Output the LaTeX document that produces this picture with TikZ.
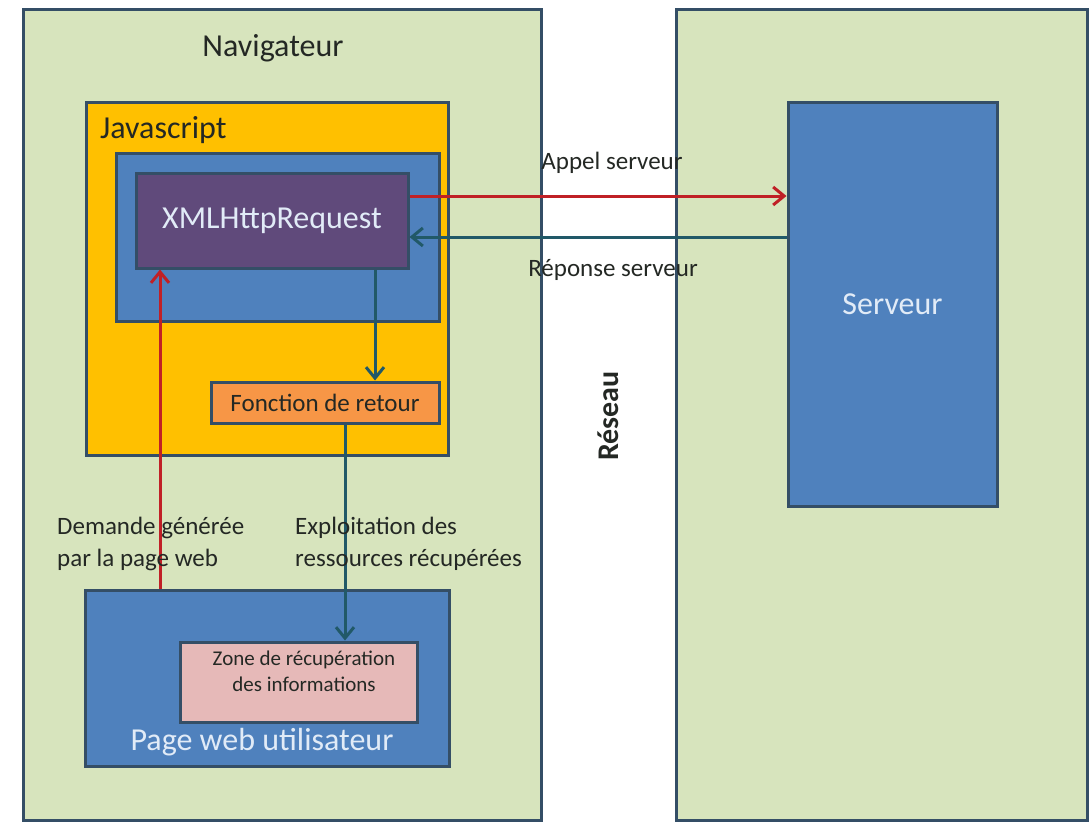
\documentclass[tikz,border=0pt]{standalone}
\usepackage{fontspec}
\setmainfont{Carlito}
\usetikzlibrary{arrows.meta,calc}
\definecolor{panel}{RGB}{215,228,189}
\definecolor{bord}{RGB}{52,78,102}
\definecolor{jsy}{RGB}{255,192,0}
\definecolor{bblue}{RGB}{79,129,189}
\definecolor{purp}{RGB}{96,74,123}
\definecolor{oran}{RGB}{247,150,70}
\definecolor{pinkz}{RGB}{230,185,184}
\definecolor{redarr}{RGB}{192,32,38}
\definecolor{tealarr}{RGB}{33,89,104}
\definecolor{txt}{RGB}{36,40,36}
\definecolor{wtxt}{RGB}{225,235,247}
\begin{document}
\begin{tikzpicture}[x=1pt,y=-1pt,
  box/.style={draw=bord,line width=3pt,inner sep=0pt,rectangle},
  bigtxt/.style={font=\fontsize{32}{38}\selectfont,inner sep=0pt},
  smalltxt/.style={font=\fontsize{25}{32}\selectfont,inner sep=0pt,text=txt},
  tinytxt/.style={font=\fontsize{21}{26}\selectfont,inner sep=0pt,text=txt},
  redline/.style={draw=redarr,line width=3pt,-{Straight Barb[length=11pt,width=18pt]}},
  tealline/.style={draw=tealarr,line width=3pt,-{Straight Barb[length=11pt,width=18pt]}}]
\fill[white] (0,0) rectangle (1089,822);
\useasboundingbox (0,0) rectangle (1089,822);

% panels
\node[box,fill=panel,minimum width=518pt,minimum height=811pt] (nav) at (282,414.5) {};
\node[box,fill=panel,minimum width=411pt,minimum height=811pt] (srvpanel) at (881.5,414.5) {};

% browser contents
\node[box,fill=jsy,minimum width=362pt,minimum height=353pt] (js) at (267,278.5) {};
\node[box,fill=bblue,minimum width=323pt,minimum height=168pt] (inner) at (277.5,237) {};
\node[box,fill=purp,minimum width=272pt,minimum height=95pt] (xhr) at (272,220.5) {};
\node[box,fill=oran,minimum width=228pt,minimum height=41pt] (fct) at (325,402.5) {};
\node[box,fill=bblue,minimum width=364pt,minimum height=176pt] (page) at (267,678) {};
\node[box,fill=pinkz,minimum width=237pt,minimum height=80pt] (pink) at (298.5,682) {};

% server
\node[box,fill=bblue,minimum width=209pt,minimum height=404pt] (srv) at (892.5,304) {};

% texts
\node[bigtxt,text=txt] (navlbl) at (273,48) {Navigateur};
\node[bigtxt,text=txt,anchor=west] (jslbl) at (100,130) {Javascript};
\node[bigtxt,text=wtxt] (xhrlbl) at (xhr.center) {XMLHttpRequest};
\node[smalltxt] (fctlbl) at (fct.center) {Fonction de retour};
\node[tinytxt,align=center] (pinklbl) at (304,671) {Zone de récupération\\des informations};
\node[bigtxt,text=wtxt] (pagelbl) at (262,742) {Page web utilisateur};
\node[bigtxt,text=wtxt] (srvlbl) at (srv.center) {Serveur};
\node[font=\bfseries\fontsize{30}{34}\selectfont,text=txt,rotate=90,inner sep=0pt] (reseau) at (608,416) {Réseau};

% connectors
\coordinate (r1) at ($(xhr.east)+(0,-24.5)$);
\draw[redline] (r1) -- (r1 -| srv.west);
\coordinate (t1) at ($(xhr.east)+(0,16.5)$);
\draw[tealline] (t1 -| srv.west) -- (t1);
\coordinate (t2) at ($(xhr.south)+(103,0)$);
\draw[tealline] (t2) -- (t2 |- fct.north);
\coordinate (t3) at ($(fct.south)+(20,0)$);
\draw[tealline] (t3) -- (t3 |- pink.north);
\coordinate (r2) at ($(page.north)+(-107,0)$);
\draw[redline] (r2) -- (r2 |- xhr.south);

% connector labels
\node[smalltxt] (appel) at (612,163) {Appel serveur};
\node[smalltxt] (reponse) at (613,270) {Réponse serveur};
\node[smalltxt,anchor=west,align=left] (demande) at (57,544) {Demande générée\\par la page web};
\node[smalltxt,anchor=west,align=left] (exploit) at (295,544) {Exploitation des\\ressources récupérées};
\end{tikzpicture}
\end{document}
